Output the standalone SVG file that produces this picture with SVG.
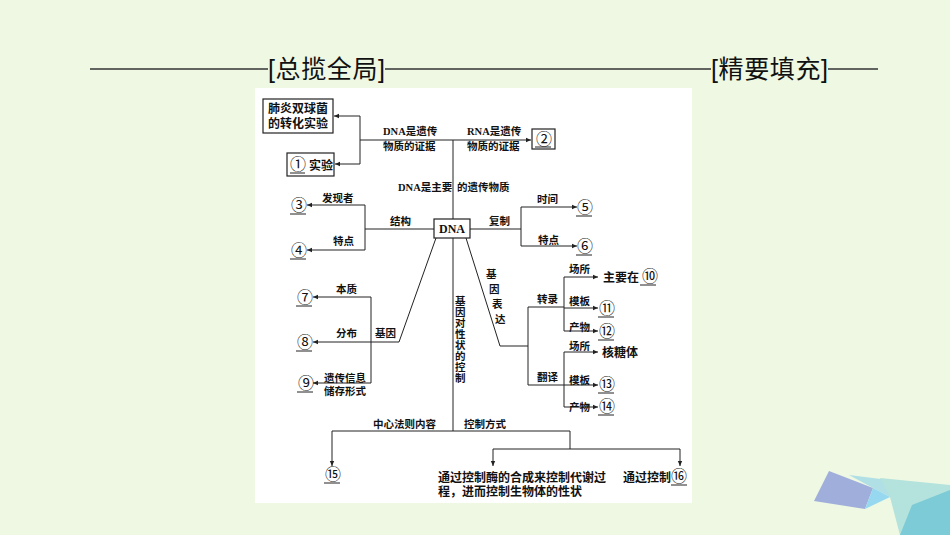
<svg xmlns="http://www.w3.org/2000/svg" width="950" height="535" viewBox="0 0 950 535">
<style>
text{font-family:"Liberation Serif","Noto Sans CJK SC",serif;font-size:10.5px;fill:#111;font-weight:bold}
.h{font-family:"Liberation Sans","Noto Sans CJK SC",sans-serif;font-size:25px;font-weight:normal}
.n{font-size:16px;font-weight:normal}
.b{font-size:12px}
.bn{font-size:16px;font-weight:normal}
line,polyline{stroke:#222;stroke-width:1;fill:none}
.a{marker-end:url(#ar)}
rect.box{fill:#fff;stroke:#222;stroke-width:1.2}
</style>
<defs><marker id="ar" markerWidth="6" markerHeight="6" refX="5" refY="3" orient="auto" markerUnits="userSpaceOnUse"><path d="M0,0.8 L5,3 L0,5.2z" fill="#222"/></marker></defs>
<rect width="950" height="535" fill="#eef8e2"/>
<g id="header">
<line x1="90" y1="69" x2="268" y2="69" style="stroke:#333;stroke-width:1.5"/>
<text class="h" x="268" y="78" textLength="117">[总揽全局]</text>
<line x1="385" y1="69" x2="711" y2="69" style="stroke:#333;stroke-width:1.5"/>
<text class="h" x="711" y="78" textLength="117">[精要填充]</text>
<line x1="828" y1="69" x2="878" y2="69" style="stroke:#333;stroke-width:1.5"/>
</g>
<g id="deco">
<polygon points="829,471 873,488 865,509 814,501" fill="#a0aedb"/>
<polygon points="849,475 920,484 890,497 873,488" fill="#b0dfe6"/>
<polygon points="873,488 890,497 865,509" fill="#96d8ef"/>
<polygon points="880,478 950,485 950,535 900,535 890,497" fill="#b4e2dc"/>
<polygon points="912,505 950,490 950,535 900,535" fill="#7ccbd6"/>
</g>
<rect x="255" y="88" width="437" height="415" fill="#fff"/>
<g id="connectors">
<polyline points="360,116 360,164"/>
<line class="a" x1="360" y1="116" x2="334" y2="116"/>
<line class="a" x1="360" y1="164" x2="335" y2="164"/>
<line class="a" x1="360" y1="140" x2="531" y2="140"/>
<line x1="453" y1="140" x2="453" y2="219"/>
<line x1="434" y1="229" x2="365" y2="229"/>
<line x1="365" y1="205" x2="365" y2="250"/>
<line class="a" x1="365" y1="205" x2="307" y2="205"/>
<line class="a" x1="365" y1="250" x2="307" y2="250"/>
<line x1="470" y1="229" x2="521" y2="229"/>
<line x1="521" y1="207" x2="521" y2="246"/>
<line class="a" x1="521" y1="207" x2="577" y2="207"/>
<line class="a" x1="521" y1="246" x2="577" y2="246"/>
<polyline points="436,238 399,342 371,342"/>
<line x1="371" y1="297" x2="371" y2="383"/>
<line class="a" x1="371" y1="297" x2="313" y2="297"/>
<line class="a" x1="371" y1="342" x2="313" y2="342"/>
<line class="a" x1="371" y1="383" x2="313" y2="383"/>
<line x1="453" y1="238" x2="453" y2="431"/>
<line x1="332" y1="431" x2="570" y2="431"/>
<line class="a" x1="332" y1="431" x2="332" y2="466"/>
<line x1="570" y1="431" x2="570" y2="449"/>
<line x1="493" y1="449" x2="680" y2="449"/>
<line class="a" x1="493" y1="449" x2="493" y2="466"/>
<line class="a" x1="680" y1="449" x2="680" y2="466"/>
<polyline points="466,238 500,346 528,346"/>
<line x1="528" y1="307" x2="528" y2="385"/>
<line x1="528" y1="307" x2="564" y2="307"/>
<line x1="528" y1="385" x2="564" y2="385"/>
<line x1="564" y1="277" x2="564" y2="331"/>
<line x1="564" y1="352" x2="564" y2="407"/>
<line class="a" x1="564" y1="277" x2="598" y2="277"/>
<line class="a" x1="564" y1="308" x2="598" y2="308"/>
<line class="a" x1="564" y1="331" x2="598" y2="331"/>
<line class="a" x1="564" y1="352" x2="598" y2="352"/>
<line class="a" x1="564" y1="385" x2="598" y2="385"/>
<line class="a" x1="564" y1="407" x2="598" y2="407"/>
</g>
<g id="labels">
<text x="383" y="135">DNA是遗传</text><text x="383" y="150">物质的证据</text>
<text x="467" y="135">RNA是遗传</text><text x="467" y="150">物质的证据</text>
<text x="398" y="191">DNA是主要</text><text x="457" y="191">的遗传物质</text>
<text x="322" y="202">发现者</text><text x="333" y="245">特点</text><text x="390" y="225">结构</text>
<text x="489" y="225">复制</text><text x="537" y="203">时间</text><text x="538" y="244">特点</text>
<text x="336" y="293">本质</text><text x="336" y="337">分布</text><text x="375" y="337">基因</text>
<text x="324" y="382">遗传信息</text><text x="324" y="395">储存形式</text>
<text x="486" y="278">基</text><text x="489" y="293">因</text><text x="492" y="308">表</text><text x="495" y="323">达</text>
<text x="455" y="305">基</text><text x="455" y="316">因</text><text x="455" y="327">对</text><text x="455" y="338">性</text><text x="455" y="349">状</text><text x="455" y="360">的</text><text x="455" y="371">控</text><text x="455" y="382">制</text>
<text x="537" y="303">转录</text><text x="537" y="381">翻译</text>
<text x="569" y="273">场所</text><text x="569" y="305">模板</text><text x="569" y="331">产物</text>
<text x="569" y="350">场所</text><text x="569" y="384">模板</text><text x="569" y="411">产物</text>
<text x="373" y="428">中心法则内容</text><text x="464" y="428">控制方式</text>
</g>
<g id="n-pneumo"><rect class="box" x="263" y="99" width="70" height="34"/><text class="b" x="268" y="113">肺炎双球菌</text><text class="b" x="268" y="128">的转化实验</text></g>
<g id="n1"><rect class="box" x="287" y="153" width="47" height="23"/><text class="b" x="290" y="170"><tspan class="bn">①</tspan> 实验</text><line x1="290" y1="173" x2="305" y2="173"/></g>
<g id="n2"><rect class="box" x="532" y="129" width="23" height="20"/><text class="n" x="536" y="145">②</text><line x1="535" y1="147" x2="551" y2="147"/></g>
<g id="n-dna"><rect class="box" x="434" y="219" width="36" height="19"/><text class="b" x="439" y="233">DNA</text></g>
<g id="n3"><text class="n" x="291" y="211">③</text><line x1="290" y1="214" x2="306" y2="214"/></g>
<g id="n4"><text class="n" x="291" y="256">④</text><line x1="290" y1="259" x2="306" y2="259"/></g>
<g id="n5"><text class="n" x="577" y="213">⑤</text><line x1="576" y1="216" x2="592" y2="216"/></g>
<g id="n6"><text class="n" x="577" y="252">⑥</text><line x1="576" y1="255" x2="592" y2="255"/></g>
<g id="n7"><text class="n" x="297" y="303">⑦</text><line x1="296" y1="306" x2="312" y2="306"/></g>
<g id="n8"><text class="n" x="297" y="348">⑧</text><line x1="296" y1="351" x2="312" y2="351"/></g>
<g id="n9"><text class="n" x="298" y="389">⑨</text><line x1="297" y1="392" x2="313" y2="392"/></g>
<g id="n10"><text class="b" x="603" y="282">主要在 <tspan class="bn">⑩</tspan></text><line x1="640" y1="285" x2="656" y2="285"/></g>
<g id="n11"><text class="n" x="599" y="314">⑪</text><line x1="598" y1="317" x2="614" y2="317"/></g>
<g id="n12"><text class="n" x="599" y="337">⑫</text><line x1="598" y1="340" x2="614" y2="340"/></g>
<g id="n-ribo"><text class="b" x="602" y="357">核糖体</text></g>
<g id="n13"><text class="n" x="599" y="390">⑬</text><line x1="598" y1="393" x2="614" y2="393"/></g>
<g id="n14"><text class="n" x="599" y="412">⑭</text><line x1="598" y1="415" x2="614" y2="415"/></g>
<g id="n15"><text class="n" x="325" y="480">⑮</text><line x1="324" y1="483" x2="340" y2="483"/></g>
<g id="n-enzyme"><text class="b" x="438" y="482">通过控制酶的合成来控制代谢过</text><text class="b" x="438" y="496">程，进而控制生物体的性状</text></g>
<g id="n16"><text class="b" x="623" y="482">通过控制<tspan class="bn">⑯</tspan></text><line x1="671" y1="485" x2="687" y2="485"/></g>
</svg>
